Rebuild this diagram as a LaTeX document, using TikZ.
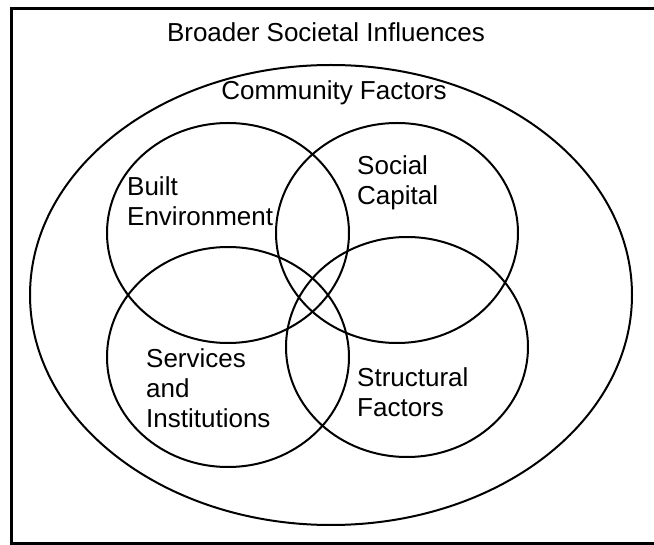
\documentclass[tikz,border=0pt]{standalone}
\usepackage{fontspec}
\setmainfont{Liberation Sans}

\begin{document}
\begin{tikzpicture}
[x=1pt,y=-1pt,every node/.style={inner sep=0pt,anchor=base west,align=left,font=\fontsize{26}{30}\selectfont}]
\useasboundingbox (0,0) rectangle (654,545);
\draw[line width=3pt] (654,8.5) -- (11,8.5) -- (11,543.5) -- (654,543.5);

\coordinate (v1) at (331,295);
\coordinate (v2) at (228,233);
\coordinate (v3) at (397,233);
\coordinate (v4) at (228,357);
\coordinate (v5) at (407,347);

\draw[line width=2pt] (v1) ellipse [x radius=301pt, y radius=230pt];
\foreach \c in {v2,v3,v4,v5}
\draw[line width=2pt] (\c) ellipse [x radius=121pt, y radius=110pt];

\node[anchor=base] (v6) at (326,42) {Broader Societal Influences};
\node[anchor=base] (v7) at (334,100) {Community Factors};
\node (v8) at (127,226) {Built\\Environment};
\node (v9) at (357,205) {Social\\Capital};
\node (v10) at (146,428) {Services\\and\\Institutions};
\node (v11) at (357,417) {Structural\\Factors};
\end{tikzpicture}
\end{document}
